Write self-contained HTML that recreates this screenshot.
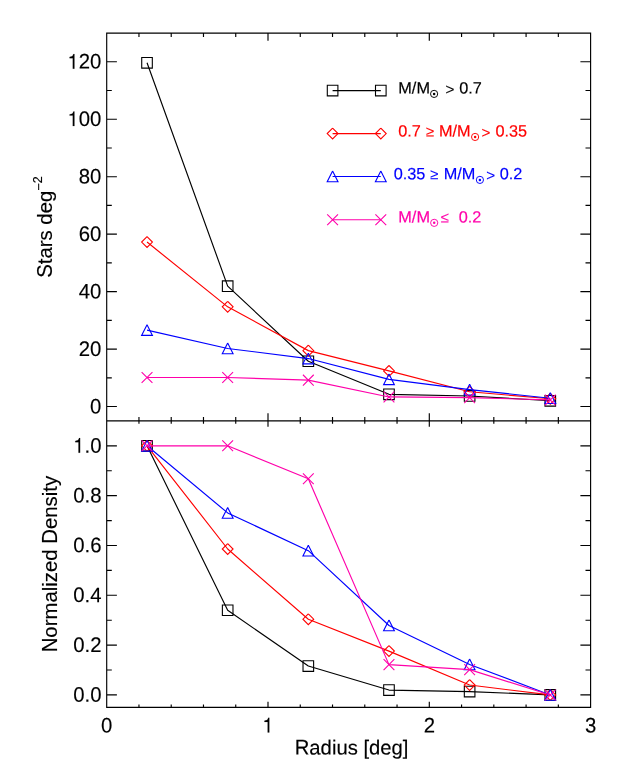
<!DOCTYPE html>
<html><head><meta charset="utf-8"><title>Radial density profiles</title>
<style>html,body{margin:0;padding:0;background:#fff;overflow:hidden}#w{width:622px;height:775px;will-change:transform;background:#fff}svg{display:block}</style></head>
<body>
<div id="w">
<svg width="622" height="775" viewBox="0 0 622 775">
<rect width="622" height="775" fill="#fff"/>
<path d="M106.7 33.05H590.6V707.4H106.7zM106.7 420.9H590.6M138.96 33.05v3.88M138.96 417.02v6.74M138.96 707.4v-2.87M171.22 33.05v3.88M171.22 417.02v6.74M171.22 707.4v-2.87M203.48 33.05v3.88M203.48 417.02v6.74M203.48 707.4v-2.87M235.74 33.05v3.88M235.74 417.02v6.74M235.74 707.4v-2.87M268 33.05v7.76M268 413.14v13.49M268 707.4v-5.73M300.26 33.05v3.88M300.26 417.02v6.74M300.26 707.4v-2.87M332.52 33.05v3.88M332.52 417.02v6.74M332.52 707.4v-2.87M364.78 33.05v3.88M364.78 417.02v6.74M364.78 707.4v-2.87M397.04 33.05v3.88M397.04 417.02v6.74M397.04 707.4v-2.87M429.3 33.05v7.76M429.3 413.14v13.49M429.3 707.4v-5.73M461.56 33.05v3.88M461.56 417.02v6.74M461.56 707.4v-2.87M493.82 33.05v3.88M493.82 417.02v6.74M493.82 707.4v-2.87M526.08 33.05v3.88M526.08 417.02v6.74M526.08 707.4v-2.87M558.34 33.05v3.88M558.34 417.02v6.74M558.34 707.4v-2.87M106.7 406.54h10.2M590.6 406.54h-10.2M106.7 377.81h5.1M590.6 377.81h-5.1M106.7 349.08h10.2M590.6 349.08h-10.2M106.7 320.35h5.1M590.6 320.35h-5.1M106.7 291.62h10.2M590.6 291.62h-10.2M106.7 262.89h5.1M590.6 262.89h-5.1M106.7 234.16h10.2M590.6 234.16h-10.2M106.7 205.43h5.1M590.6 205.43h-5.1M106.7 176.7h10.2M590.6 176.7h-10.2M106.7 147.97h5.1M590.6 147.97h-5.1M106.7 119.24h10.2M590.6 119.24h-10.2M106.7 90.51h5.1M590.6 90.51h-5.1M106.7 61.78h10.2M590.6 61.78h-10.2M106.7 694.94h10.2M590.6 694.94h-10.2M106.7 670.03h5.1M590.6 670.03h-5.1M106.7 645.12h10.2M590.6 645.12h-10.2M106.7 620.2h5.1M590.6 620.2h-5.1M106.7 595.29h10.2M590.6 595.29h-10.2M106.7 570.38h5.1M590.6 570.38h-5.1M106.7 545.47h10.2M590.6 545.47h-10.2M106.7 520.55h5.1M590.6 520.55h-5.1M106.7 495.64h10.2M590.6 495.64h-10.2M106.7 470.73h5.1M590.6 470.73h-5.1M106.7 445.81h10.2M590.6 445.81h-10.2" fill="none" stroke="#000" stroke-width="1.15" stroke-linecap="butt"/>
<polyline points="147.03,62.79 227.68,286.16 308.32,361.26 388.98,394.33 469.62,395.96 550.28,400.79" fill="none" stroke="#000000" stroke-width="1.15" stroke-linejoin="round"/>
<path d="M141.72 57.49h10.6v10.6h-10.6zM222.38 280.86h10.6v10.6h-10.6zM303.02 355.96h10.6v10.6h-10.6zM383.68 389.03h10.6v10.6h-10.6zM464.32 390.66h10.6v10.6h-10.6zM544.98 395.49h10.6v10.6h-10.6z" fill="none" stroke="#000000" stroke-width="1.1"/>
<polyline points="147.03,242.06 227.68,306.84 308.32,350.63 388.98,370.91 469.62,391.74 550.28,398.78" fill="none" stroke="#ff0000" stroke-width="1.15" stroke-linejoin="round"/>
<path d="M147.03 236.66L152.43 242.06L147.03 247.46L141.62 242.06L147.03 236.66M227.68 301.44L233.08 306.84L227.68 312.24L222.28 306.84L227.68 301.44M308.32 345.23L313.72 350.63L308.32 356.03L302.93 350.63L308.32 345.23M388.98 365.51L394.38 370.91L388.98 376.31L383.58 370.91L388.98 365.51M469.62 386.34L475.02 391.74L469.62 397.14L464.23 391.74L469.62 386.34M550.28 393.38L555.68 398.78L550.28 404.18L544.88 398.78L550.28 393.38" fill="none" stroke="#ff0000" stroke-width="1.1"/>
<polyline points="147.03,330.11 227.68,348.5 308.32,358.56 388.98,379.36 469.62,389.67 550.28,398.2" fill="none" stroke="#0000ff" stroke-width="1.15" stroke-linejoin="round"/>
<path d="M147.03 324.71L152.43 335.41L141.62 335.41L147.03 324.71M227.68 343.1L233.08 353.8L222.28 353.8L227.68 343.1M308.32 353.16L313.72 363.86L302.93 363.86L308.32 353.16M388.98 373.96L394.38 384.66L383.58 384.66L388.98 373.96M469.62 384.27L475.02 394.97L464.23 394.97L469.62 384.27M550.28 392.8L555.68 403.5L544.88 403.5L550.28 392.8" fill="none" stroke="#0000ff" stroke-width="1.1"/>
<polyline points="147.03,377.52 227.68,377.52 308.32,380.16 388.98,396.94 469.62,397.63 550.28,399.93" fill="none" stroke="#ff00aa" stroke-width="1.15" stroke-linejoin="round"/>
<path d="M141.62 372.12L152.43 382.92M141.62 382.92L152.43 372.12M222.28 372.12L233.08 382.92M222.28 382.92L233.08 372.12M302.93 374.76L313.72 385.56M302.93 385.56L313.72 374.76M383.58 391.54L394.38 402.34M383.58 402.34L394.38 391.54M464.23 392.23L475.02 403.03M464.23 403.03L475.02 392.23M544.88 394.53L555.68 405.33M544.88 405.33L555.68 394.53" fill="none" stroke="#ff00aa" stroke-width="1.1"/>
<polyline points="147.03,445.81 227.68,610.24 308.32,666.04 388.98,690.06 469.62,691.58 550.28,694.94" fill="none" stroke="#000000" stroke-width="1.15" stroke-linejoin="round"/>
<path d="M141.72 440.51h10.6v10.6h-10.6zM222.38 604.94h10.6v10.6h-10.6zM303.02 660.74h10.6v10.6h-10.6zM383.68 684.76h10.6v10.6h-10.6zM464.32 686.28h10.6v10.6h-10.6zM544.98 689.64h10.6v10.6h-10.6z" fill="none" stroke="#000000" stroke-width="1.1"/>
<polyline points="147.03,445.81 227.68,549 308.32,619.21 388.98,651.1 469.62,685.05 550.28,694.94" fill="none" stroke="#ff0000" stroke-width="1.15" stroke-linejoin="round"/>
<path d="M147.03 440.41L152.43 445.81L147.03 451.21L141.62 445.81L147.03 440.41M227.68 543.6L233.08 549L227.68 554.4L222.28 549L227.68 543.6M308.32 613.81L313.72 619.21L308.32 624.61L302.93 619.21L308.32 613.81M388.98 645.7L394.38 651.1L388.98 656.5L383.58 651.1L388.98 645.7M469.62 679.65L475.02 685.05L469.62 690.45L464.23 685.05L469.62 679.65M550.28 689.54L555.68 694.94L550.28 700.34L544.88 694.94L550.28 689.54" fill="none" stroke="#ff0000" stroke-width="1.1"/>
<polyline points="147.03,445.81 227.68,512.93 308.32,550.7 388.98,625.51 469.62,664.42 550.28,694.94" fill="none" stroke="#0000ff" stroke-width="1.15" stroke-linejoin="round"/>
<path d="M147.03 440.41L152.43 451.11L141.62 451.11L147.03 440.41M227.68 507.53L233.08 518.23L222.28 518.23L227.68 507.53M308.32 545.3L313.72 556L302.93 556L308.32 545.3M388.98 620.11L394.38 630.81L383.58 630.81L388.98 620.11M469.62 659.02L475.02 669.72L464.23 669.72L469.62 659.02M550.28 689.54L555.68 700.24L544.88 700.24L550.28 689.54" fill="none" stroke="#0000ff" stroke-width="1.1"/>
<polyline points="147.03,445.81 227.68,445.81 308.32,478.77 388.98,664.62 469.62,669.63 550.28,694.94" fill="none" stroke="#ff00aa" stroke-width="1.15" stroke-linejoin="round"/>
<path d="M141.62 440.41L152.43 451.21M141.62 451.21L152.43 440.41M222.28 440.41L233.08 451.21M222.28 451.21L233.08 440.41M302.93 473.37L313.72 484.17M302.93 484.17L313.72 473.37M383.58 659.22L394.38 670.02M383.58 670.02L394.38 659.22M464.23 664.23L475.02 675.03M464.23 675.03L475.02 664.23M544.88 689.54L555.68 700.34M544.88 700.34L555.68 689.54" fill="none" stroke="#ff00aa" stroke-width="1.1"/>
<path d="M332.6 90.6H380.8" stroke="#000000" stroke-width="1.15" fill="none"/>
<path d="M327.3 85.3h10.6v10.6h-10.6zM375.5 85.3h10.6v10.6h-10.6z" fill="none" stroke="#000000" stroke-width="1.1"/>
<path d="M332.6 133.6H380.8" stroke="#ff0000" stroke-width="1.15" fill="none"/>
<path d="M332.6 128.2L338 133.6L332.6 139L327.2 133.6L332.6 128.2M380.8 128.2L386.2 133.6L380.8 139L375.4 133.6L380.8 128.2" fill="none" stroke="#ff0000" stroke-width="1.1"/>
<path d="M332.6 176.5H380.8" stroke="#0000ff" stroke-width="1.15" fill="none"/>
<path d="M332.6 171.1L338 181.8L327.2 181.8L332.6 171.1M380.8 171.1L386.2 181.8L375.4 181.8L380.8 171.1" fill="none" stroke="#0000ff" stroke-width="1.1"/>
<path d="M332.6 219.7H380.8" stroke="#ff00aa" stroke-width="1.15" fill="none"/>
<path d="M327.2 214.3L338 225.1M327.2 225.1L338 214.3M375.4 214.3L386.2 225.1M375.4 225.1L386.2 214.3" fill="none" stroke="#ff00aa" stroke-width="1.1"/>
<g font-family="'Liberation Sans', sans-serif" font-size="20.35" fill="#000" stroke="#000" stroke-width="0.15">
<text transform="translate(101.4 413.39) rotate(0.04) scale(1 1.035)" text-anchor="end">0</text>
<text transform="translate(101.4 355.93) rotate(0.04) scale(1 1.035)" text-anchor="end">20</text>
<text transform="translate(101.4 298.47) rotate(0.04) scale(1 1.035)" text-anchor="end">40</text>
<text transform="translate(101.4 241.01) rotate(0.04) scale(1 1.035)" text-anchor="end">60</text>
<text transform="translate(101.4 183.55) rotate(0.04) scale(1 1.035)" text-anchor="end">80</text>
<path transform="translate(67.46 126.09) scale(0.02035 -0.02106)" d="M262 0L262 498L104 498L104 556C223 569 262 586 294 692L342 692L342 0Z" stroke-width="7.37"/>
<text transform="translate(101.4 126.09) rotate(0.04) scale(1 1.035)" text-anchor="end">00</text>
<path transform="translate(67.46 68.63) scale(0.02035 -0.02106)" d="M262 0L262 498L104 498L104 556C223 569 262 586 294 692L342 692L342 0Z" stroke-width="7.37"/>
<text transform="translate(101.4 68.63) rotate(0.04) scale(1 1.035)" text-anchor="end">20</text>
<text transform="translate(101.45 701.79) rotate(0.04) scale(1 1.035)" text-anchor="end">0.0</text>
<text transform="translate(101.45 651.97) rotate(0.04) scale(1 1.035)" text-anchor="end">0.2</text>
<text transform="translate(101.45 602.14) rotate(0.04) scale(1 1.035)" text-anchor="end">0.4</text>
<text transform="translate(101.45 552.32) rotate(0.04) scale(1 1.035)" text-anchor="end">0.6</text>
<text transform="translate(101.45 502.49) rotate(0.04) scale(1 1.035)" text-anchor="end">0.8</text>
<path transform="translate(73.16 452.66) scale(0.02035 -0.02106)" d="M262 0L262 498L104 498L104 556C223 569 262 586 294 692L342 692L342 0Z" stroke-width="7.37"/>
<text transform="translate(101.45 452.66) rotate(0.04) scale(1 1.035)" text-anchor="end">.0</text>
<text transform="translate(112.36 732.4) rotate(0.04) scale(1 1.035)" text-anchor="end">0</text>
<path transform="translate(262.34 732.4) scale(0.02035 -0.02106)" d="M262 0L262 498L104 498L104 556C223 569 262 586 294 692L342 692L342 0Z" stroke-width="7.37"/>
<text transform="translate(434.96 732.4) rotate(0.04) scale(1 1.035)" text-anchor="end">2</text>
<text transform="translate(596.26 732.4) rotate(0.04) scale(1 1.035)" text-anchor="end">3</text>
<text transform="translate(294.75 754.5) rotate(0.04) scale(1 1.05)" font-size="20.25">R</text>
<text transform="translate(309.36 754.5) rotate(0.04)" font-size="20.25">adius [deg]</text>
<g transform="translate(52.15 227.1) rotate(-90)" font-size="20.35">
<text transform="translate(-50.66 0) scale(1 1.075)">S</text>
<text transform="translate(-37.1 0)">tars deg<tspan font-size="12.5" dy="-9.2">−</tspan><tspan font-size="12.5" dy="-1.1">2</tspan></text>
</g>
<g transform="translate(57 564.1) rotate(-90)" font-size="20.38">
<text transform="translate(-88.26 0) scale(1 1.06)">N</text>
<text transform="translate(-73.57 0)">ormalized </text>
<text transform="translate(20.35 0) scale(1 1.055)">D</text>
<text transform="translate(35.05 0)">ensity</text>
</g>
</g>
<g font-family="'Liberation Sans', sans-serif" font-size="16.3" stroke-width="0.18">
<text transform="translate(398.3 93.4) rotate(0.04)" fill="#000000" stroke="#000000">M/M</text>
<circle cx="434.1" cy="93.9" r="3.6" fill="none" stroke="#000000" stroke-width="0.95"/><circle cx="434.1" cy="93.9" r="1.25" fill="#000000" stroke="none"/>
<text transform="translate(445.6 94.6) rotate(0.04)" fill="#000000" stroke="#000000" font-size="15.2">&gt;</text>
<text transform="translate(459.2 93.4) rotate(0.04)" fill="#000000" stroke="#000000">0.7</text>
<text transform="translate(398.2 136.5) rotate(0.04)" fill="#ff0000" stroke="#ff0000">0.7</text>
<text transform="translate(425.9 136.5) rotate(0.04)" fill="#ff0000" stroke="#ff0000" font-size="14.7">≥</text>
<text transform="translate(439 136.5) rotate(0.04)" fill="#ff0000" stroke="#ff0000">M/M</text>
<circle cx="475.1" cy="136.95" r="3.6" fill="none" stroke="#ff0000" stroke-width="0.95"/><circle cx="475.1" cy="136.95" r="1.25" fill="#ff0000" stroke="none"/>
<text transform="translate(481.4 137.7) rotate(0.04)" fill="#ff0000" stroke="#ff0000" font-size="15.2">&gt;</text>
<text transform="translate(495.4 136.5) rotate(0.04)" fill="#ff0000" stroke="#ff0000">0.35</text>
<text transform="translate(393.7 179.3) rotate(0.04)" fill="#0000ff" stroke="#0000ff">0.35</text>
<text transform="translate(430.2 179.3) rotate(0.04)" fill="#0000ff" stroke="#0000ff" font-size="14.7">≥</text>
<text transform="translate(443.7 179.3) rotate(0.04)" fill="#0000ff" stroke="#0000ff">M/M</text>
<circle cx="479.9" cy="179.9" r="3.6" fill="none" stroke="#0000ff" stroke-width="0.95"/><circle cx="479.9" cy="179.9" r="1.25" fill="#0000ff" stroke="none"/>
<text transform="translate(486.3 180.5) rotate(0.04)" fill="#0000ff" stroke="#0000ff" font-size="15.2">&gt;</text>
<text transform="translate(499.7 179.3) rotate(0.04)" fill="#0000ff" stroke="#0000ff">0.2</text>
<text transform="translate(398.3 222.4) rotate(0.04)" fill="#ff00aa" stroke="#ff00aa">M/M</text>
<circle cx="434.2" cy="222.85" r="3.6" fill="none" stroke="#ff00aa" stroke-width="0.95"/><circle cx="434.2" cy="222.85" r="1.25" fill="#ff00aa" stroke="none"/>
<text transform="translate(440.8 222.4) rotate(0.04)" fill="#ff00aa" stroke="#ff00aa" font-size="14.7">≤</text>
<text transform="translate(458.7 222.4) rotate(0.04)" fill="#ff00aa" stroke="#ff00aa">0.2</text>
</g>
</svg>
</div>
</body></html>
